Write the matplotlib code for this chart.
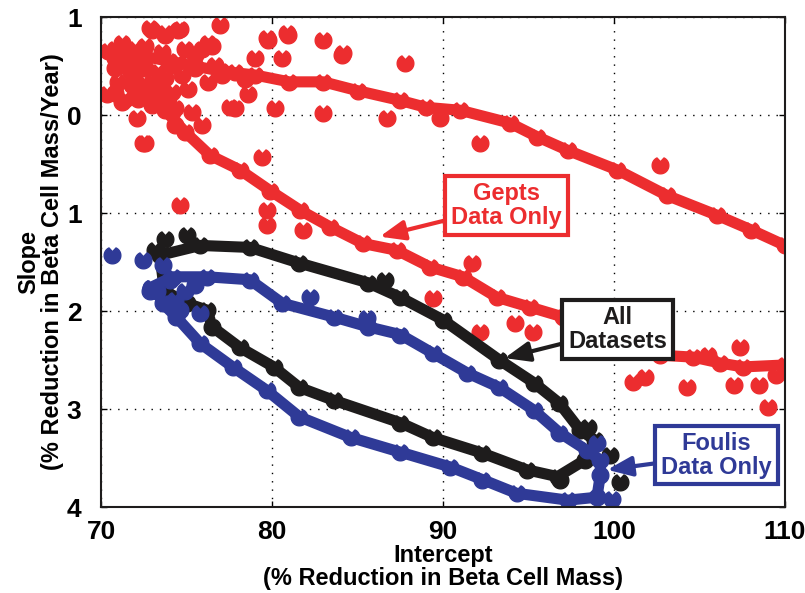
import numpy as np
import matplotlib
matplotlib.use("Agg")
import matplotlib.pyplot as plt
from matplotlib.path import Path

plt.rcParams['font.family'] = ['Liberation Sans', 'DejaVu Sans']
plt.rcParams['font.weight'] = 'bold'

# ---- data (intercept, slope) ----
gepts_x = [110.0, 108.0, 106.0, 103.1, 100.2, 97.3, 95.5, 93.9, 91.0, 89.0, 87.5, 85.0, 83.0, 81.0, 79.0,
           77.0, 75.5, 74.0, 72.5, 71.0, 72.0, 73.0, 73.74, 74.91, 76.37, 78.13, 79.88, 81.64, 83.39, 85.32,
           87.31, 89.24, 91.17, 93.16, 95.09, 97.02, 99.18, 102.69, 104.62, 106.2, 107.54, 110.0]
gepts_y = [1.33, 1.17, 1.02, 0.82, 0.56, 0.36, 0.22, 0.08, -0.05, -0.08, -0.15, -0.25, -0.34, -0.34, -0.41,
           -0.45, -0.5, -0.55, -0.6, -0.55, -0.35, -0.2, -0.05, 0.17, 0.41, 0.56, 0.77, 0.97, 1.14, 1.31,
           1.38, 1.55, 1.65, 1.86, 1.96, 2.06, 2.24, 2.45, 2.47, 2.53, 2.57, 2.55]
gepts_pts_x = [70.82, 71.23, 72.98, 73.74, 74.50, 76.96, 70.82, 71.81, 72.40, 73.57, 74.91, 76.26, 70.82,
               71.23, 72.16, 72.98, 73.74, 74.50, 75.50, 76.26, 76.67, 72.16, 73.16, 73.92, 74.15, 75.32,
               70.35, 72.11, 72.57, 74.33, 75.91, 77.84, 78.60, 79.77, 80.94, 82.98, 80.18, 82.98, 79.42,
               79.01, 80.58, 84.09, 72.87, 73.74, 74.62, 79.71, 80.88, 84.15, 72.46, 74.62, 77.54, 79.71,
               79.71, 81.81, 86.73, 87.78, 89.82, 92.16, 102.69, 91.70, 89.42, 92.16, 94.21, 95.26, 101.11,
               101.81, 104.27, 107.37, 109.01, 108.5, 109.5, 107.0, 105.5,
               70.43, 70.82, 71.40, 71.99, 72.57, 71.79, 72.57, 73.35, 74.13, 74.72, 75.11, 74.13, 73.35,
               72.57, 71.79, 71.01, 71.40, 72.96, 73.74, 74.33, 75.50, 75.89, 76.47, 77.06, 77.84, 78.42]
gepts_pts_y = [-0.68, -0.74, -0.87, -0.82, -0.87, -0.92, -0.48, -0.51, -0.61, -0.64, -0.68, -0.74, -0.23,
               -0.13, -0.31, -0.34, -0.38, -0.54, -0.61, -0.34, -0.51, -0.17, -0.20, -0.13, -0.03, -0.03,
               -0.22, 0.03, 0.28, 0.10, 0.10, -0.07, -0.22, -0.77, -0.82, -0.77, -0.07, -0.02, 0.43,
               -0.58, -0.58, -0.61, -0.89, -0.84, -0.88, -0.79, -0.84, -0.63, 0.28, 0.92, -0.08, 0.97,
               1.12, 1.17, 0.03, -0.53, 0.03, 0.28, 0.51, 1.51, 1.87, 2.21, 2.12, 2.21, 2.72,
               2.67, 2.78, 2.37, 2.98, 2.75, 2.65, 2.75, 2.45,
               -0.65, -0.58, -0.66, -0.68, -0.71, -0.44, -0.48, -0.44, -0.51, -0.41, -0.27, -0.24, -0.27,
               -0.24, -0.31, -0.34, -0.17, -0.10, -0.10, -0.07, -0.48, -0.68, -0.71, -0.41, -0.44, -0.37]

all_x = [73.45, 75.8, 78.7, 81.6, 85.6, 87.5, 90.0, 93.3, 95.3, 96.8, 98.0, 98.9, 98.3, 96.7, 94.9, 92.3,
         89.4, 87.5, 83.6, 81.6, 80.1, 78.1, 76.5, 76.2, 75.0, 73.7, 73.45]
all_y = [1.43, 1.33, 1.35, 1.51, 1.71, 1.86, 2.09, 2.50, 2.73, 2.94, 3.21, 3.32, 3.52, 3.69, 3.62, 3.45,
         3.29, 3.14, 2.91, 2.78, 2.57, 2.37, 2.16, 1.99, 1.92, 1.79, 1.43]
all_pts_x = [73.74, 75.03, 86.61, 98.48, 99.77, 100.35, 96.84, 73.16]
all_pts_y = [1.26, 1.22, 1.68, 3.18, 3.47, 3.74, 3.72, 1.38]

foulis_x = [72.9, 74.2, 76.2, 78.7, 80.6, 83.6, 85.6, 87.5, 89.4, 91.4, 93.3, 95.3, 96.8, 98.4, 99.2, 99.2,
            99.0, 97.3, 94.3, 92.3, 90.4, 87.5, 84.6, 81.6, 79.7, 77.7, 75.8, 74.4, 73.6, 73.3, 72.9]
foulis_y = [1.76, 1.65, 1.65, 1.68, 1.92, 2.06, 2.16, 2.24, 2.43, 2.63, 2.78, 3.01, 3.24, 3.42, 3.52, 3.67,
            3.90, 3.93, 3.86, 3.72, 3.59, 3.44, 3.29, 3.08, 2.81, 2.57, 2.33, 2.06, 1.92, 1.79, 1.76]
foulis_pts_x = [70.64, 72.46, 73.63, 72.98, 82.22, 85.56, 99.88, 99.01, 72.87, 75.79, 74.04, 74.91, 74.33,
                75.50, 74.62]
foulis_pts_y = [1.43, 1.48, 1.53, 1.76, 1.86, 2.07, 3.92, 3.35, 1.79, 2.02, 1.68, 1.79, 1.89, 1.73, 1.99]

xticks = [70, 80, 90, 100, 110]
yticks = [-1, 0, 1, 2, 3, 4]
ytick_labels = ["1", "0", "1", "2", "3", "4"]

RED = '#EC2D2F'
BLACK = '#1E1C1C'
BLUE = '#2F3A97'

# heart-like marker (circle with a notch on top)
ang = np.deg2rad(np.linspace(115, 425, 40))
verts = [(0.0, 0.45)] + [(np.cos(a), np.sin(a)) for a in ang] + [(0.0, 0.45)]
heart = Path(verts, [Path.MOVETO] + [Path.LINETO] * (len(verts) - 2) + [Path.CLOSEPOLY])

fig = plt.figure(figsize=(8.05, 5.93), dpi=100)
ax = fig.add_axes([0.1255, 0.145, 0.8497, 0.826])

for lx, ly, px, py, c in [(gepts_x, gepts_y, gepts_pts_x, gepts_pts_y, RED),
                          (all_x, all_y, all_pts_x, all_pts_y, BLACK),
                          (foulis_x, foulis_y, foulis_pts_x, foulis_pts_y, BLUE)]:
    ax.plot(lx, ly, color=c, lw=8, solid_joinstyle='round', solid_capstyle='round',
            marker=heart, ms=12, mec=c, mfc=c)
    ax.plot(px, py, ls='none', marker=heart, ms=12, mec=c, mfc=c)

ax.set_xlim(70, 110)
ax.set_ylim(4, -1)
ax.set_xticks(xticks)
ax.set_yticks(yticks)
ax.set_yticklabels(ytick_labels)
ax.tick_params(direction='in', length=4, width=1, labelsize=19, top=True, right=True)
ax.tick_params(axis='x', pad=9)
ax.tick_params(axis='y', pad=14)
for lab in ax.get_xticklabels() + ax.get_yticklabels():
    lab.set_fontweight('bold')
ax.grid(True, color='black', linestyle=(0, (1, 5)), linewidth=1)
for s in ax.spines.values():
    s.set_linewidth(1.5)
    s.set_color(BLACK)

ax.set_xlabel("Intercept\n(% Reduction in Beta Cell Mass)", fontsize=17, fontweight='bold', labelpad=0,
              linespacing=1.05)
ax.set_ylabel("Slope\n(% Reduction in Beta Cell Mass/Year)", fontsize=17, fontweight='bold', labelpad=2,
              linespacing=1.05)

def note(text, xy, xytext, c):
    ax.annotate(text, xy=xy, xytext=xytext, ha='center', va='center', fontsize=17, fontweight='bold',
                color=c, linespacing=1.05,
                bbox=dict(boxstyle='square,pad=0.25', fc='white', ec=c, lw=3),
                arrowprops=dict(arrowstyle='-|>,head_length=1.0,head_width=0.4', color=c, lw=3,
                                shrinkA=0, shrinkB=0, mutation_scale=15))

note("Gepts\nData Only", (86.3, 1.24), (93.7, 0.92), RED)
note("All\nDatasets", (93.6, 2.48), (100.2, 2.19), BLACK)
note("Foulis\nData Only", (99.6, 3.62), (106.0, 3.47), BLUE)

fig.savefig("out.png", dpi=100)
